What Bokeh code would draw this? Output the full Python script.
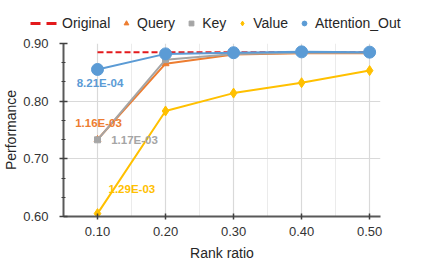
from bokeh.plotting import figure
from bokeh.layouts import column
from bokeh.models import (Range1d, FixedTicker, Legend, LegendItem, ColumnDataSource)
from bokeh.core.properties import value
from bokeh.embed import file_html
from bokeh.resources import INLINE

rank_ratio = [0.10, 0.20, 0.30, 0.40, 0.50]
original = [0.885, 0.885, 0.885, 0.885, 0.885]
query = [0.7335, 0.865, 0.881, 0.883, 0.883]
key = [0.733, 0.872, 0.882, 0.884, 0.884]
val = [0.605, 0.783, 0.814, 0.832, 0.853]
attn = [0.855, 0.882, 0.884, 0.8855, 0.885]
x_ticks = [0.10, 0.20, 0.30, 0.40, 0.50]
y_ticks = [0.60, 0.70, 0.80, 0.90]
annot_text = ["8.21E-04", "1.16E-03", "1.17E-03", "1.29E-03"]

C_RED = "#e31a1c"
C_ORANGE = "#ed7d31"
C_GRAY = "#a5a5a5"
C_YELLOW = "#ffc000"
C_BLUE = "#5b9bd5"
FONT = "Liberation Sans"

LEG_H = 35

p = figure(width=432, height=267 - LEG_H, output_backend="svg", toolbar_location=None,
           x_range=Range1d(0.05, 0.516), y_range=Range1d(0.60, 0.90),
           min_border_left=63, min_border_right=52, min_border_top=8, min_border_bottom=51)
p.outline_line_color = None
p.frame_align = False

# grid
p.xgrid.ticker = FixedTicker(ticks=x_ticks, minor_ticks=[0.15, 0.25, 0.35, 0.45])
p.xgrid.grid_line_color = "#d9d9d9"
p.xgrid.grid_line_width = 1.2
p.xgrid.minor_grid_line_color = "#ebebeb"
p.xgrid.minor_grid_line_width = 1
p.ygrid.ticker = FixedTicker(ticks=y_ticks)
p.ygrid.grid_line_color = "#d9d9d9"
p.ygrid.grid_line_width = 1.2

# axes
p.xaxis.ticker = FixedTicker(ticks=x_ticks)
p.yaxis.ticker = FixedTicker(ticks=y_ticks,
                             minor_ticks=[0.6333, 0.6667, 0.7333, 0.7667, 0.8333, 0.8667])
p.xaxis.major_label_overrides = {t: f"{t:.2f}" for t in x_ticks}
p.yaxis.major_label_overrides = {t: f"{t:.2f}" for t in y_ticks}
for ax in (p.xaxis, p.yaxis):
    ax.axis_line_color = "#595959"
    ax.axis_line_width = 2
    ax.major_tick_line_color = "#404040"
    ax.major_tick_line_width = 1.5
    ax.major_label_text_font = FONT
    ax.major_label_text_font_size = "13px"
    ax.major_label_text_color = "#333333"
    ax.axis_label_text_font = FONT
    ax.axis_label_text_font_size = "14px"
    ax.axis_label_text_font_style = "normal"
    ax.axis_label_text_color = "#262626"
p.xaxis.major_tick_in = 3
p.xaxis.major_tick_out = 3
p.yaxis.major_tick_in = 4
p.yaxis.major_tick_out = 4
p.xaxis.minor_tick_line_color = None
p.yaxis.minor_tick_line_color = "#404040"
p.yaxis.minor_tick_in = 2
p.yaxis.minor_tick_out = 2
p.xaxis.major_label_standoff = 7
p.yaxis.major_label_standoff = 11
p.xaxis.axis_label = "Rank ratio"
p.yaxis.axis_label = "Performance"
p.xaxis.axis_label_standoff = 6
p.yaxis.axis_label_standoff = 1

# series
p.line(rank_ratio, original, line_color=C_RED, line_width=2, line_dash="6 3")

p.line(rank_ratio, query, line_color=C_ORANGE, line_width=2)
p.scatter(rank_ratio, query, marker="triangle", size=7, color=C_ORANGE)

p.line(rank_ratio, key, line_color=C_GRAY, line_width=2)
p.scatter(rank_ratio, key, marker="square", size=6, color=C_GRAY)

p.line(rank_ratio, val, line_color=C_YELLOW, line_width=2)
p.scatter(rank_ratio, val, marker="diamond", size=10, color=C_YELLOW)

p.line(rank_ratio, attn, line_color=C_BLUE, line_width=2)
p.scatter(rank_ratio, attn, marker="circle", size=12, color=C_BLUE)

# annotations next to the first points
ann = ColumnDataSource(dict(
    x=[rank_ratio[0]] * 4,
    y=[attn[0], query[0], key[0], val[0]],
    text=annot_text,
    color=[C_BLUE, C_ORANGE, C_GRAY, C_YELLOW],
    xo=[2.5, 1, 13.7, 11],
    yo=[13.7, -16.7, 0, -25],
    align=["center", "center", "left", "left"],
))
p.text(x="x", y="y", text="text", source=ann, text_color="color",
       x_offset="xo", y_offset="yo", text_align="align", text_baseline="middle",
       text_font=value(FONT), text_font_size="11.5px", text_font_style="bold")

# legend strip above the plot (its proxies use the same series, kept out of view)
lg = figure(width=432, height=LEG_H, output_backend="svg", toolbar_location=None,
            x_axis_type=None, y_axis_type=None,
            x_range=Range1d(10, 11), y_range=Range1d(10, 11),
            min_border_left=0, min_border_right=0, min_border_top=0, min_border_bottom=0)
lg.grid.visible = False
lg.outline_line_color = None
lg.frame_align = False
g_orig = lg.line(rank_ratio, original, line_color=C_RED, line_width=3, line_dash="10 6")
g_q = lg.scatter(rank_ratio, query, marker="triangle", size=8, color=C_ORANGE)
g_k = lg.scatter(rank_ratio, key, marker="square", size=6, color=C_GRAY)
g_v = lg.scatter(rank_ratio, val, marker="diamond", size=10, color=C_YELLOW)
g_a = lg.scatter(rank_ratio, attn, marker="circle", size=9, color=C_BLUE)

common = dict(orientation="horizontal", padding=0, margin=0, border_line_color=None,
              background_fill_alpha=0, label_text_font=FONT, label_text_font_size="14px",
              label_text_color="#262626", label_height=16, glyph_height=16, spacing=10)
leg1 = Legend(items=[LegendItem(label="Original", renderers=[g_orig])],
              location=(30, 4), glyph_width=27, label_standoff=5, **common)
leg2 = Legend(items=[LegendItem(label="Query", renderers=[g_q]),
                     LegendItem(label="Key", renderers=[g_k]),
                     LegendItem(label="Value", renderers=[g_v]),
                     LegendItem(label="Attention_Out", renderers=[g_a])],
              location=(120, 4), glyph_width=12, label_standoff=5, **common)
lg.add_layout(leg1, "center")
lg.add_layout(leg2, "center")

layout = column(lg, p, spacing=0)
open("out.html", "w").write(file_html(layout, INLINE))
